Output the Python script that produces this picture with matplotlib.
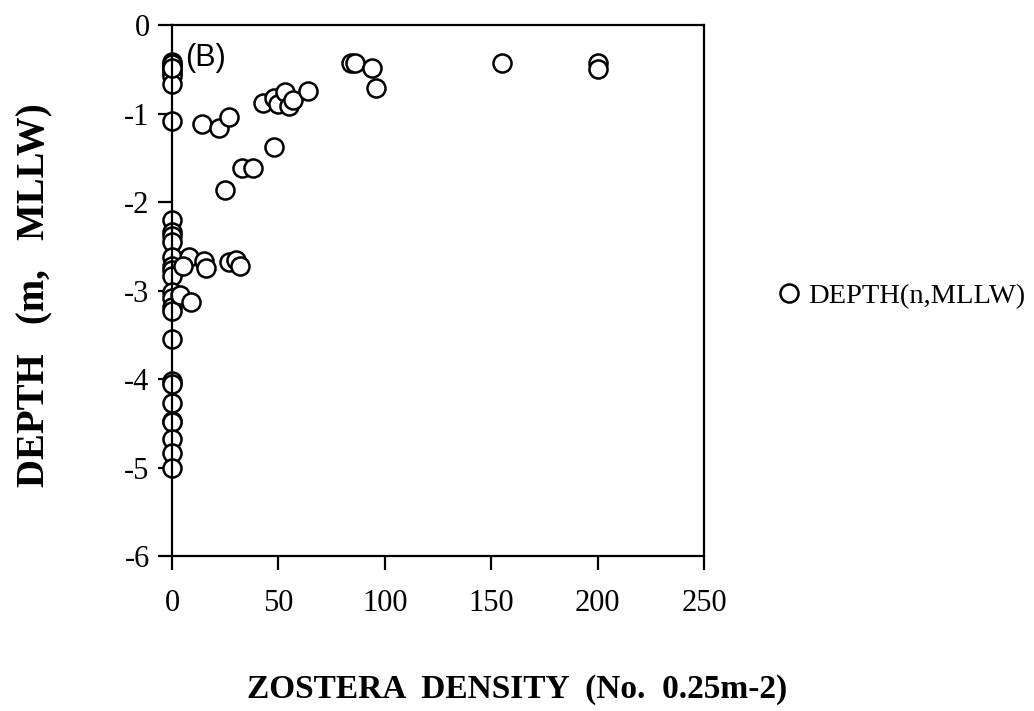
import matplotlib
matplotlib.use('Agg')
import matplotlib.pyplot as plt

# Zostera density vs depth (panel B)
density = [0, 0, 0, 0, 0, 0,
           0, 14, 22, 27,
           43, 48, 50, 53, 55, 57, 64,
           84, 86, 94, 96, 155, 200, 200,
           48, 33, 38, 25,
           0, 0, 0, 0, 0, 0, 0, 0, 0, 0, 0, 0, 0,
           8, 5, 15, 16, 27, 30, 32, 4, 9,
           0, 0, 0, 0, 0, 0, 0, 0, 0, 0]
depth = [-0.42, -0.46, -0.50, -0.54, -0.58, -0.67,
         -1.09, -1.12, -1.16, -1.04,
         -0.88, -0.82, -0.89, -0.76, -0.92, -0.85, -0.74,
         -0.43, -0.43, -0.49, -0.71, -0.43, -0.43, -0.50,
         -1.38, -1.62, -1.62, -1.86,
         -2.20, -2.34, -2.38, -2.45, -2.62, -2.72, -2.77, -2.84, -3.02, -3.09, -3.19, -3.23, -3.55,
         -2.62, -2.72, -2.67, -2.75, -2.68, -2.65, -2.72, -3.05, -3.13,
         -4.02, -4.06, -4.27, -4.47, -4.49, -4.68, -4.84, -5.01, -0.44, -0.48]

serif = 'Liberation Serif'

fig = plt.figure(figsize=(10.34, 7.11), dpi=100)
ax = fig.add_axes([0.1663, 0.218, 0.5146, 0.7468])

ax.plot(density, depth, 'o', linestyle='none', ms=13, mfc='white', mec='black',
        mew=1.8, label='DEPTH(n,MLLW)', clip_on=False)

ax.set_xlim(0, 250)
ax.set_ylim(-6, 0)
ax.set_xticks([0, 50, 100, 150, 200, 250])
ax.set_yticks([-6, -5, -4, -3, -2, -1, 0])
ax.set_yticklabels(['-6', '-5', '-4', '-3', '-2', '-1', '0'])
for s in ax.spines.values():
    s.set_linewidth(1.6)
ax.tick_params(direction='out', length=10, width=1.6, labelsize=22, pad=6)
ax.tick_params(axis='x', pad=14)
for lab in ax.get_xticklabels() + ax.get_yticklabels():
    lab.set_family(serif)

ax.text(0.024, 0.938, '(B)', transform=ax.transAxes, fontsize=22,
        family='Liberation Sans', ha='left', va='center')

leg = ax.legend(loc='center left', bbox_to_anchor=(1.14, 0.49), frameon=False,
                prop={'family': serif, 'size': 20.5}, handlelength=0.75,
                handletextpad=0.28, borderaxespad=0, borderpad=0)

fig.text(0.034, 0.585, 'DEPTH   (m,   MLLW)', rotation=90, ha='center', va='center',
         family=serif, fontweight='bold', fontsize=28)
fig.text(0.5, 0.03, 'ZOSTERA  DENSITY  (No.  0.25m-2)', ha='center', va='center',
         family=serif, fontweight='bold', fontsize=24)

fig.savefig('out.png', dpi=100)
